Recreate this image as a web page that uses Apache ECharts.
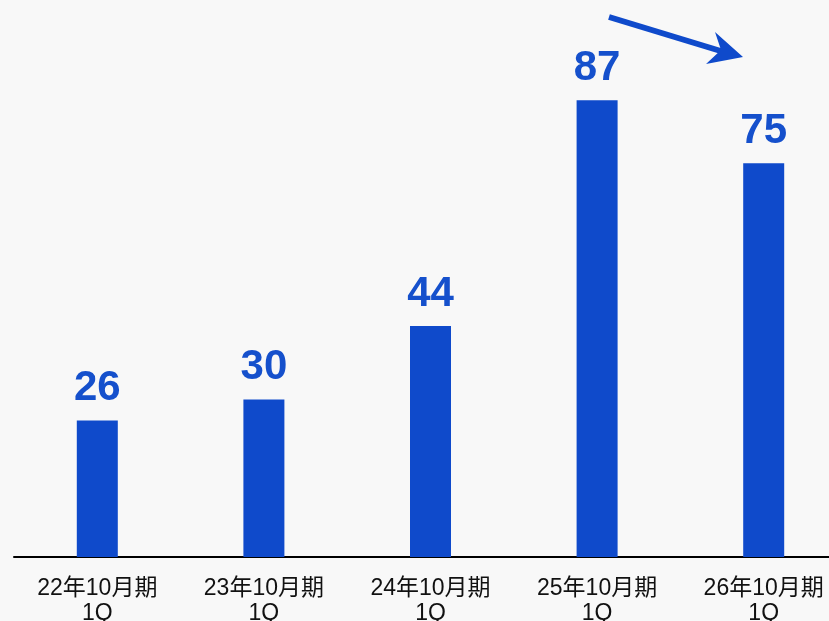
<!DOCTYPE html>
<html>
<head>
<meta charset="utf-8">
<script src="https://cdn.jsdelivr.net/npm/echarts@6/dist/echarts.min.js"></script>
<style>
  html, body { margin: 0; padding: 0; background: #f8f8f8; }
  #chart { width: 829px; height: 621px; }
</style>
</head>
<body>
<div id="chart"></div>
<script>
// Quarterly figures (first quarter of each fiscal year ending October)
const categories = ['22年10月期\n1Q', '23年10月期\n1Q', '24年10月期\n1Q', '25年10月期\n1Q', '26年10月期\n1Q'];
const values = [26, 30, 44, 87, 75];

const blue = '#0f4acb';
const font = '"Liberation Sans", Arial, "Noto Sans CJK JP", sans-serif';

const chart = echarts.init(document.getElementById('chart'), null, { renderer: 'canvas' });

chart.setOption({
  backgroundColor: '#f8f8f8',
  animation: false,
  grid: {
    left: 14, top: 32, width: 833, height: 525,
    containLabel: false, outerBoundsMode: 'none'
  },
  xAxis: {
    type: 'category',
    data: categories,
    axisLine: { show: true, lineStyle: { color: '#000', width: 2 } },
    axisTick: { show: false },
    axisLabel: {
      color: '#111', fontSize: 23, lineHeight: 25, margin: 19,
      fontFamily: font, interval: 0
    }
  },
  yAxis: {
    type: 'value', min: 0, max: 100,
    show: false, splitLine: { show: false }
  },
  series: [{
    type: 'bar',
    data: values,
    barWidth: 41,
    itemStyle: { color: blue },
    label: {
      show: true, position: 'top', distance: 11,
      color: '#1550cc', fontSize: 42, fontWeight: 'bold', fontFamily: font
    }
  }],
  // Downward trend arrow between the last two periods
  graphic: [
    {
      type: 'line',
      shape: { x1: 609, y1: 17, x2: 724, y2: 52 },
      style: { stroke: blue, lineWidth: 6 }
    },
    {
      type: 'polygon',
      shape: { points: [[743, 57], [715, 32], [721, 50], [706, 64]] },
      style: { fill: blue }
    }
  ]
});
</script>
</body>
</html>
